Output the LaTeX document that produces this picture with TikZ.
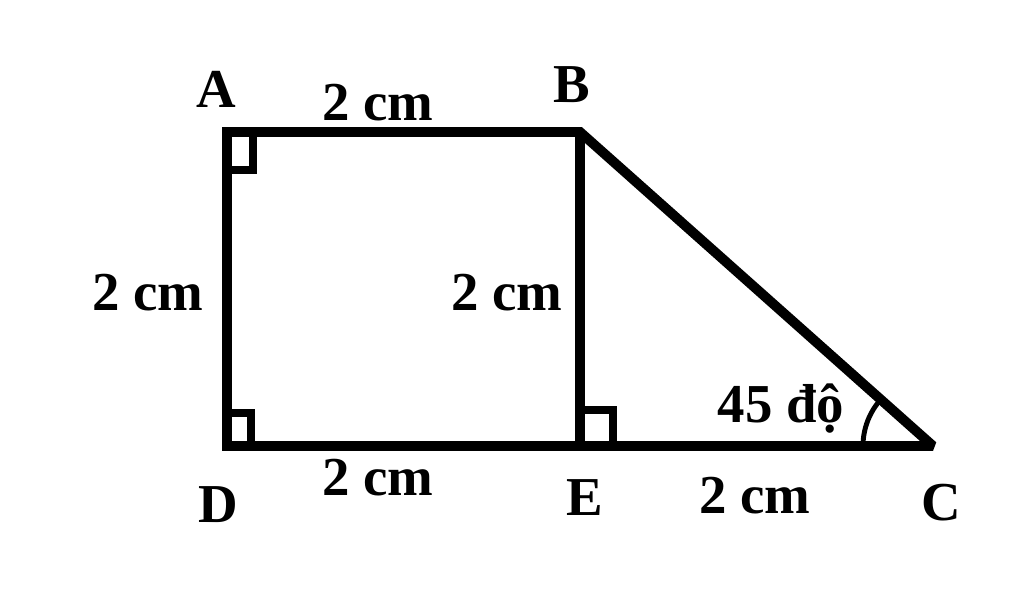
\documentclass[tikz,border=0pt]{standalone}
\usepackage{fontspec}
\setmainfont{Liberation Serif}
\tikzset{
  edge line/.style={line width=7pt,line join=miter,miter limit=1.5},
  mark line/.style={line width=5pt,line join=miter},
  angle line/.style={line width=3.5pt},
  pt label/.style={font=\fontsize{39}{44}\selectfont\bfseries,inner sep=0pt},
  len label/.style={font=\fontsize{39}{44}\selectfont\bfseries,inner sep=0pt}
}
\begin{document}
\begin{tikzpicture}[x=0.025cm,y=-0.025cm]
\useasboundingbox (0,0) rectangle (1024,598);
\coordinate (A) at (227,132);
\coordinate (B) at (580,132);
\coordinate (D) at (227,446);
\coordinate (E) at (580,446);
\coordinate (C) at (933,446);
\draw[edge line] (C) -- (D) -- (A) -- (B) -- cycle;
\draw[edge line] (B) -- (E);
\draw[mark line] (A) ++(26,0) |- ++(-26,38);
\draw[mark line] (D) ++(24,0) |- ++(-24,-33);
\draw[mark line] (E) ++(33,0) |- ++(-33,-36);
\draw[angle line] (C) ++(-70,0) arc[start angle=180,end angle=221.75,radius=70];
\node[pt label] (lA) at (216,89) {A};
\node[pt label] (lB) at (572,85) {B};
\node[pt label] (lD) at (218,505) {D};
\node[pt label] (lE) at (585,498) {E};
\node[pt label] (lC) at (941,503) {C};
\node[len label] (AB) at (378,103) {2 cm};
\node[len label] (AD) at (148,293) {2 cm};
\node[len label] (BE) at (507,293) {2 cm};
\node[len label] (DE) at (378,478) {2 cm};
\node[len label] (EC) at (755,496) {2 cm};
\node[len label,anchor=base] (ang) at (781,422) {45 độ};
\end{tikzpicture}
\end{document}
